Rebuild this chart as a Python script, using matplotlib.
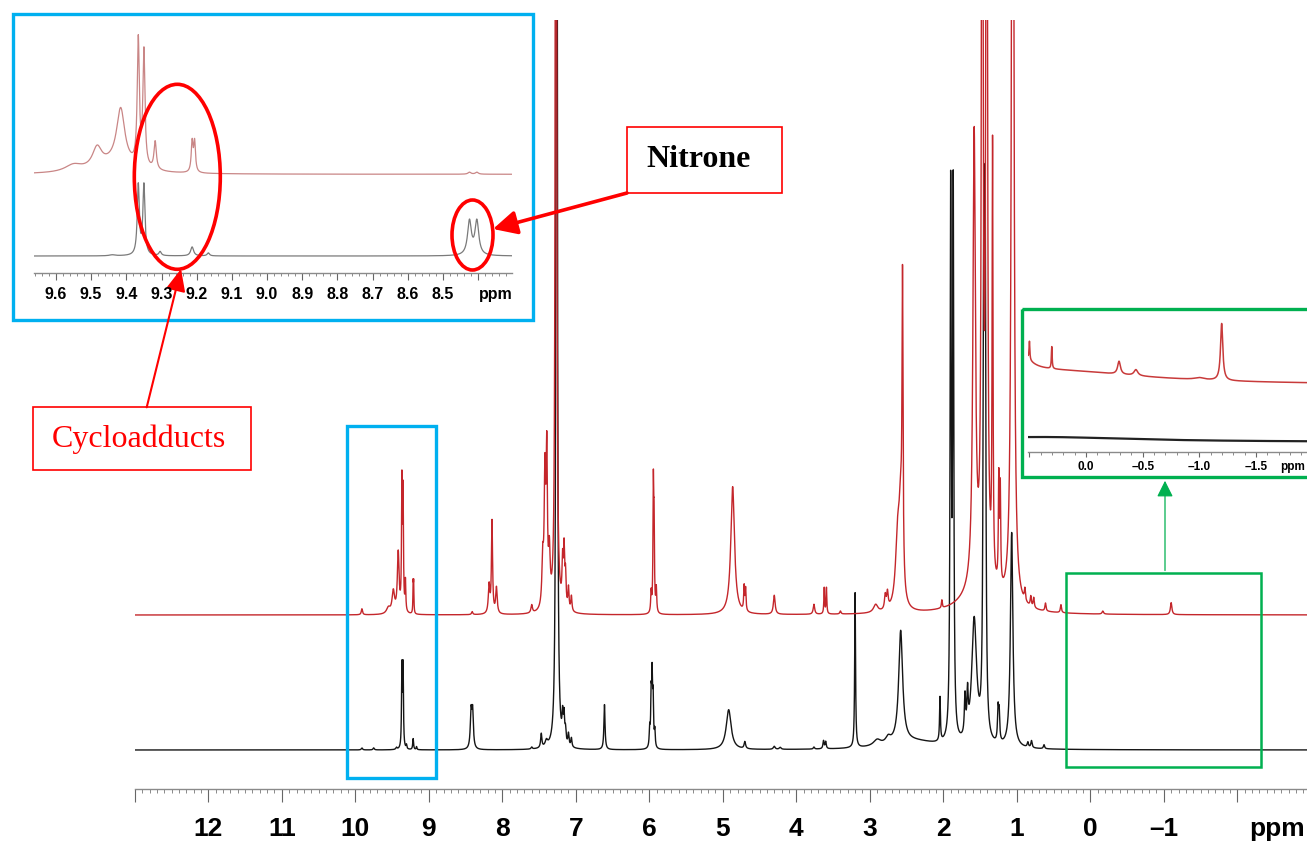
import numpy as np
import matplotlib
matplotlib.use("Agg")
import matplotlib.pyplot as plt
import matplotlib.transforms as mtransforms
from matplotlib.patches import Rectangle, Ellipse, FancyArrowPatch
from matplotlib.ticker import MultipleLocator

# ---------------- data ----------------
# main spectrum, lower (black) trace: peak position [ppm], height, half-width [ppm]
black_ppm = [9.91, 9.75, 9.44, 9.366, 9.350, 9.304, 9.213, 9.167, 8.425, 8.404,
             7.60, 7.47, 7.40, 7.26, 7.18, 7.16, 7.14, 7.10, 7.06, 6.61,
             5.995, 5.975, 5.962, 5.948, 5.925, 4.92, 4.70, 4.30, 4.22, 3.76,
             3.63, 3.60, 3.20, 2.90, 2.75, 2.40, 2.58, 2.045, 1.90, 1.865,
             1.705, 1.67, 1.58, 1.45, 1.43, 1.255, 1.24, 1.07, 0.85, 0.80, 0.63]
black_height = [2, 2, 2, 80, 80, 4, 11, 3, 36, 36,
                2, 14, 6, 2000, 24, 26, 13, 12, 9, 45,
                18, 48, 66, 46, 16, 40, 7, 3, 2, 2,
                8, 7, 155, 6, 6, 8, 112, 44, 540, 540,
                38, 38, 125, 475, 475, 32, 28, 215, 5, 7, 4]
black_width = [0.01, 0.01, 0.01, 0.006, 0.006, 0.006, 0.007, 0.006, 0.012, 0.012,
               0.01, 0.01, 0.02, 0.007, 0.009, 0.009, 0.009, 0.009, 0.009, 0.009,
               0.007, 0.007, 0.007, 0.007, 0.007, 0.04, 0.012, 0.015, 0.015, 0.01,
               0.009, 0.009, 0.007, 0.06, 0.04, 0.4, 0.032, 0.007, 0.009, 0.009,
               0.01, 0.01, 0.04, 0.01, 0.01, 0.009, 0.009, 0.02, 0.01, 0.01, 0.01]

# main spectrum, upper (red) trace
red_ppm = [9.91, 9.55, 9.483, 9.416, 9.366, 9.350, 9.318, 9.213, 9.206, 8.41,
           8.18, 8.14, 8.08, 7.60, 7.45, 7.42, 7.395, 7.36, 7.27, 7.18,
           7.16, 7.14, 7.10, 7.06, 5.975, 5.945, 5.935, 5.905, 4.866, 4.71,
           4.69, 4.30, 3.76, 3.62, 3.59, 3.40, 2.92, 2.79, 2.76, 2.62,
           2.58, 2.555, 2.02, 1.50, 1.58, 1.47, 1.41, 1.33, 1.245, 1.225,
           1.056, 0.89, 0.81, 0.77, 0.61, 0.40, -0.17, -1.10]
red_height = [6, 6, 22, 60, 125, 115, 30, 28, 28, 3,
              28, 92, 26, 8, 45, 128, 145, 50, 2000, 42,
              55, 32, 22, 15, 20, 122, 80, 24, 128, 24,
              22, 19, 10, 26, 26, 3, 8, 14, 16, 70,
              85, 290, 8, 25, 450, 1500, 1500, 430, 105, 95,
              1500, 12, 10, 10, 8, 8, 3, 12]
red_width = [0.01, 0.03, 0.02, 0.014, 0.006, 0.006, 0.006, 0.004, 0.004, 0.01,
             0.012, 0.009, 0.012, 0.012, 0.013, 0.012, 0.01, 0.013, 0.007, 0.009,
             0.009, 0.009, 0.009, 0.009, 0.007, 0.006, 0.006, 0.007, 0.03, 0.007,
             0.007, 0.014, 0.012, 0.006, 0.006, 0.01, 0.035, 0.012, 0.012, 0.035,
             0.025, 0.008, 0.007, 0.25, 0.02, 0.009, 0.009, 0.007, 0.007, 0.007,
             0.014, 0.009, 0.009, 0.009, 0.009, 0.009, 0.012, 0.012]

main_ticks = [12, 11, 10, 9, 8, 7, 6, 5, 4, 3, 2, 1, 0, -1]
main_tick_labels = ["12", "11", "10", "9", "8", "7", "6", "5", "4", "3", "2", "1", "0", "\u20131"]

# blue inset (9.66 - 8.30 ppm)
blue_red_ppm = [9.55, 9.483, 9.43, 9.416, 9.366, 9.350, 9.318, 9.213, 9.206, 8.425, 8.404]
blue_red_height = [7, 20, 10, 55, 125, 115, 28, 30, 30, 2, 2]
blue_red_width = [0.03, 0.016, 0.06, 0.014, 0.0035, 0.0035, 0.004, 0.003, 0.003, 0.005, 0.005]
blue_black_ppm = [9.44, 9.366, 9.350, 9.304, 9.213, 9.167, 8.425, 8.404]
blue_black_height = [1, 70, 70, 4, 9, 3, 34, 34]
blue_black_width = [0.01, 0.0035, 0.0035, 0.004, 0.005, 0.004, 0.0065, 0.0065]
blue_tick_labels = ["9.6", "9.5", "9.4", "9.3", "9.2", "9.1", "9.0", "8.9", "8.8", "8.7", "8.6", "8.5"]
blue_tick_values = [9.6, 9.5, 9.4, 9.3, 9.2, 9.1, 9.0, 8.9, 8.8, 8.7, 8.6, 8.5]

# green inset (0.5 - -2 ppm)
green_red_ppm = [0.62, 0.30, 0.50, 0.303, -0.291, -0.44, -1.0, -1.197]
green_red_height = [40, 14, 18, 22, 13, 6, 2, 57]
green_red_width = [0.08, 1.0, 0.004, 0.004, 0.015, 0.02, 0.05, 0.012]
green_black_ppm = [0.4]
green_black_height = [5]
green_black_width = [1.0]
green_tick_values = [0.0, -0.5, -1.0, -1.5]
green_tick_labels = ["0.0", "\u20130.5", "\u20131.0", "\u20131.5"]

# ---------------- figure ----------------
W, H = 1307, 842
fig = plt.figure(figsize=(W / 100, H / 100), dpi=100)


def px_axes(x0, y_top, x1, y_bottom, z):
    return fig.add_axes([x0 / W, 1 - y_bottom / H, (x1 - x0) / W, (y_bottom - y_top) / H], zorder=z)


def lorentz_sum(grid, pos, hts, wids):
    y = np.zeros_like(grid)
    for p, h, w in zip(pos, hts, wids):
        y += h / (1 + ((grid - p) / w) ** 2)
    return y


def style_ruler(ax, major, minor, lmaj, lmin):
    for s in ["top", "left", "right"]:
        ax.spines[s].set_visible(False)
    ax.spines["bottom"].set_color("#8a8a8a")
    ax.spines["bottom"].set_linewidth(1.0)
    ax.set_facecolor("none")
    ax.yaxis.set_visible(False)
    ax.xaxis.set_major_locator(MultipleLocator(major))
    ax.xaxis.set_minor_locator(MultipleLocator(minor))
    ax.tick_params(axis="x", which="major", direction="out", length=lmaj, width=0.8,
                   color="#666666", labelbottom=False)
    ax.tick_params(axis="x", which="minor", direction="out", length=lmin, width=0.6,
                   color="#777777")


# overlay in pixel coordinates
ov = fig.add_axes([0, 0, 1, 1], zorder=10)
ov.set_xlim(0, W)
ov.set_ylim(H, 0)
ov.axis("off")
ov.set_facecolor("none")

# ---- main spectrum ----
ax = px_axes(134.8, 20, 1307, 789, 1)
ppm_right = 13 - (1307 - 134.8) / 73.5
ax.set_xlim(13, ppm_right)
ax.set_ylim(0, 769)
style_ruler(ax, 1, 0.1, 9.0, 3.0)
grid = np.linspace(13, ppm_right, 48001)
ax.plot(grid, 39 + lorentz_sum(grid, black_ppm, black_height, black_width),
        color="#151515", lw=1.0)
ax.plot(grid, 174 + lorentz_sum(grid, red_ppm, red_height, red_width),
        color="#c4262b", lw=1.0)
tr = mtransforms.blended_transform_factory(ax.transData, ov.transData)
for v, lab in zip(main_ticks, main_tick_labels):
    ov.text(v, 836.2, lab, transform=tr, ha="center", va="baseline",
            fontsize=19, fontweight="bold", family="Liberation Sans")
ov.text(1277, 836.2, "ppm", ha="center", va="baseline", fontsize=19,
        fontweight="bold", family="Liberation Sans")

# ---- blue inset ----
bx = px_axes(34.1, 25, 512.4, 273.3, 2)
bx.set_xlim(9.662, 8.303)
bx.set_ylim(0, 248.3)
style_ruler(bx, 0.1, 0.02, 4.8, 2.4)
g2 = np.linspace(9.662, 8.303, 8001)
bx.plot(g2, 17.3 + lorentz_sum(g2, blue_black_ppm, blue_black_height, blue_black_width),
        color="#7a7a7a", lw=0.9)
bx.plot(g2, 99 + lorentz_sum(g2, blue_red_ppm, blue_red_height, blue_red_width),
        color="#c98686", lw=0.9)
trb = mtransforms.blended_transform_factory(bx.transData, ov.transData)
for v, lab in zip(blue_tick_values, blue_tick_labels):
    ov.text(v, 299.0, lab, transform=trb, ha="center", va="baseline",
            fontsize=11.5, fontweight="bold", family="Liberation Sans")
ov.text(496, 299.0, "ppm", ha="center", va="baseline", fontsize=11.5,
        fontweight="bold", family="Liberation Sans")

# ---- green inset ----
gx = px_axes(1028.3, 315, 1330, 451.7, 2)
g_right = (1086 - 1330) / 113.3
gx.set_xlim(0.51, g_right)
gx.set_ylim(0, 136.7)
style_ruler(gx, 0.5, 0.1, 3.6, 2.0)
g3 = np.linspace(0.51, g_right, 8001)
gx.plot(g3, 9.7 + lorentz_sum(g3, green_black_ppm, green_black_height, green_black_width),
        color="#222222", lw=1.6)
gx.plot(g3, 66.7 + lorentz_sum(g3, green_red_ppm, green_red_height, green_red_width),
        color="#c83a3a", lw=1.1)
trg = mtransforms.blended_transform_factory(gx.transData, ov.transData)
for v, lab in zip(green_tick_values, green_tick_labels):
    ov.text(v, 470.0, lab, transform=trg, ha="center", va="baseline",
            fontsize=8.5, fontweight="bold", family="Liberation Sans")
ov.text(1280, 470.0, "ppm", ha="left", va="baseline", fontsize=8.5,
        fontweight="bold", family="Liberation Sans")

# ---- annotation boxes / shapes ----
BLUE = "#00b0f0"
GREEN = "#00b050"
RED = "#ff0000"
ov.add_patch(Rectangle((13, 14), 520, 306, fill=False, ec=BLUE, lw=2.4))
ov.add_patch(Rectangle((346.7, 426), 89.3, 352.3, fill=False, ec=BLUE, lw=2.4))
ov.add_patch(Rectangle((1022.3, 309), 320, 167.7, fill=False, ec=GREEN, lw=2.4))
ov.add_patch(Rectangle((1066, 573.3), 195, 193.4, fill=False, ec=GREEN, lw=1.8))
ov.add_patch(FancyArrowPatch((1165, 573.3), (1165, 478), arrowstyle="-|>,head_length=0.7,head_width=0.35",
                             mutation_scale=14, color=GREEN, lw=0.9))

ov.add_patch(Ellipse((177.3, 176.8), 86, 185, fill=False, ec=RED, lw=2.6))
ov.add_patch(Ellipse((472.5, 235), 41, 70, fill=False, ec=RED, lw=2.6))

ov.add_patch(Rectangle((627, 127), 155, 66, fill=False, ec=RED, lw=1.2))
ov.text(698.5, 166.7, "Nitrone", ha="center", va="baseline", fontsize=23,
        fontweight="bold", family="Liberation Serif", color="black")
ov.add_patch(FancyArrowPatch((627, 193), (493, 229), arrowstyle="-|>,head_length=0.9,head_width=0.45",
                             mutation_scale=16, color=RED, lw=2.6, shrinkA=0, shrinkB=0))

ov.add_patch(Rectangle((33.3, 407.3), 217.7, 62.7, fill=False, ec=RED, lw=1.2))
ov.text(139.3, 446.7, "Cycloadducts", ha="center", va="baseline", fontsize=23,
        family="Liberation Serif", color=RED)
ov.add_patch(FancyArrowPatch((146.7, 407.3), (181, 269), arrowstyle="-|>,head_length=0.9,head_width=0.4",
                             mutation_scale=15, color=RED, lw=1.5, shrinkA=0, shrinkB=0))

fig.savefig("out.png", dpi=100)
